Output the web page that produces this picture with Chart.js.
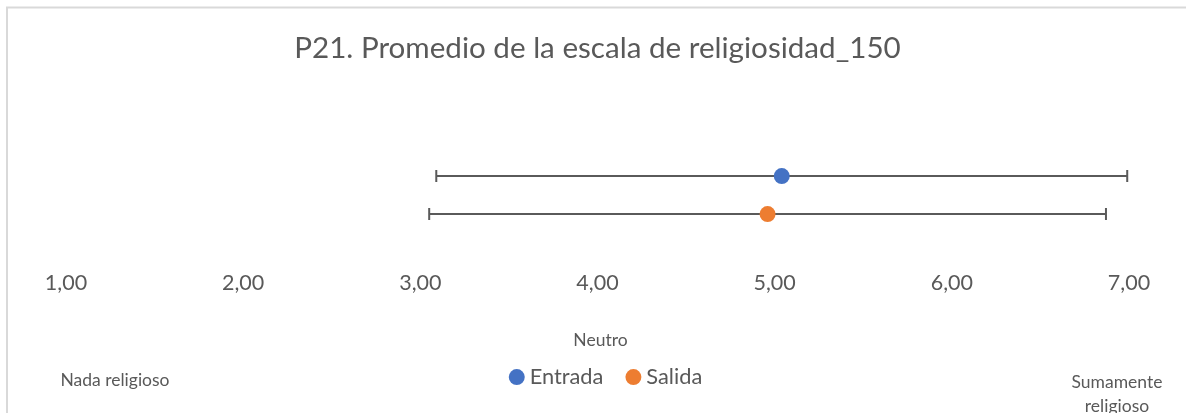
<!DOCTYPE html>
<html>
<head>
<meta charset="utf-8">
<script src="https://cdn.jsdelivr.net/npm/chart.js@4/dist/chart.umd.min.js"></script>
<style>
  html, body { margin: 0; padding: 0; background: #ffffff; }
  canvas { display: block; }
</style>
</head>
<body>
<canvas id="chart" width="1186" height="413"></canvas>
<script>
// Mean of the religiosity scale (1 = not religious, 7 = extremely religious)
const seriesNames = ['Entrada', 'Salida'];
const seriesColors = ['#4472C4', '#ED7D31'];
const means = [5.04, 4.96];
const stdDevs = [1.95, 1.91];
const rowPositions = [2, 1];

const tickValues = [1, 2, 3, 4, 5, 6, 7];
const tickLabels = ['1,00', '2,00', '3,00', '4,00', '5,00', '6,00', '7,00'];

const titleText = 'P21. Promedio de la escala de religiosidad_150';
const anchorLabels = { low: 'Nada religioso', mid: 'Neutro', high: ['Sumamente', 'religioso'] };

const textColor = '#595959';
const fontFamily = 'Lato, "Open Sans", sans-serif';

// white background and the light frame around the chart
const framePlugin = {
  id: 'frame',
  beforeDraw(chart) {
    const ctx = chart.ctx;
    ctx.save();
    ctx.fillStyle = '#ffffff';
    ctx.fillRect(0, 0, chart.width, chart.height);
    ctx.strokeStyle = '#d9d9d9';
    ctx.lineWidth = 2;
    ctx.strokeRect(7, 7.5, chart.width + 40, chart.height + 40);
    ctx.restore();
  }
};

// nudge the legend a little to the right of the plot centre
const legendShiftPlugin = {
  id: 'legendShift',
  afterLayout(chart) {
    const lg = chart.legend;
    if (lg) {
      lg.left += 11;
      lg.right += 11;
    }
  }
};

// horizontal error bars: mean ± standard deviation, with end caps
const errorBarPlugin = {
  id: 'errorBars',
  beforeDatasetsDraw(chart) {
    const ctx = chart.ctx;
    const xs = chart.scales.x;
    const ys = chart.scales.y;
    ctx.save();
    ctx.strokeStyle = '#5a5a5a';
    ctx.lineWidth = 2;
    means.forEach((m, i) => {
      const y = ys.getPixelForValue(rowPositions[i]);
      const x0 = xs.getPixelForValue(m - stdDevs[i]);
      const x1 = xs.getPixelForValue(m + stdDevs[i]);
      ctx.beginPath();
      ctx.moveTo(x0, y);
      ctx.lineTo(x1, y);
      ctx.moveTo(x0, y - 6);
      ctx.lineTo(x0, y + 6);
      ctx.moveTo(x1, y - 6);
      ctx.lineTo(x1, y + 6);
      ctx.stroke();
    });
    ctx.restore();
  }
};

// scale anchor captions under the axis
const anchorPlugin = {
  id: 'anchors',
  afterDraw(chart) {
    const ctx = chart.ctx;
    const xs = chart.scales.x;
    ctx.save();
    ctx.fillStyle = textColor;
    ctx.font = '17.5px ' + fontFamily;
    ctx.textAlign = 'center';
    ctx.textBaseline = 'middle';
    ctx.fillText(anchorLabels.low, xs.left + 49, 380);
    ctx.fillText(anchorLabels.mid, xs.getPixelForValue(4) + 3, 340);
    ctx.fillText(anchorLabels.high[0], xs.right - 12, 382);
    ctx.fillText(anchorLabels.high[1], xs.right - 12, 406);
    ctx.restore();
  }
};

const datasets = seriesNames.map((name, i) => ({
  label: name,
  data: [{ x: means[i], y: rowPositions[i] }],
  backgroundColor: seriesColors[i],
  borderColor: seriesColors[i],
  borderWidth: 0,
  pointRadius: 8,
  pointHoverRadius: 8,
  pointStyle: 'circle'
}));

new Chart(document.getElementById('chart'), {
  type: 'scatter',
  data: { datasets },
  plugins: [framePlugin, legendShiftPlugin, errorBarPlugin, anchorPlugin],
  options: {
    responsive: false,
    animation: false,
    devicePixelRatio: 1,
    layout: { padding: { left: 66, right: 57, top: 0, bottom: 15 } },
    plugins: {
      title: {
        display: true,
        text: titleText,
        color: textColor,
        font: { family: fontFamily, size: 29.6, weight: 'normal' },
        padding: { top: 30.2, bottom: 34.3 }
      },
      legend: {
        position: 'bottom',
        labels: {
          usePointStyle: true,
          pointStyle: 'circle',
          boxWidth: 4,
          boxHeight: 11.3,
          padding: 28,
          color: textColor,
          font: { family: fontFamily, size: 21.8 }
        }
      },
      tooltip: { enabled: false }
    },
    scales: {
      x: {
        type: 'linear',
        min: 1,
        max: 7,
        grid: { display: false, drawTicks: false },
        border: { display: false },
        afterBuildTicks(scale) {
          scale.ticks = tickValues.map(v => ({ value: v }));
        },
        afterFit(scale) {
          scale.height = 86.1;
        },
        ticks: {
          padding: 18,
          color: textColor,
          font: { family: fontFamily, size: 21.5 },
          maxRotation: 0,
          callback: (v) => tickLabels[tickValues.indexOf(v)]
        }
      },
      y: {
        type: 'linear',
        display: false,
        min: 0,
        max: 4
      }
    }
  }
});
</script>
</body>
</html>
